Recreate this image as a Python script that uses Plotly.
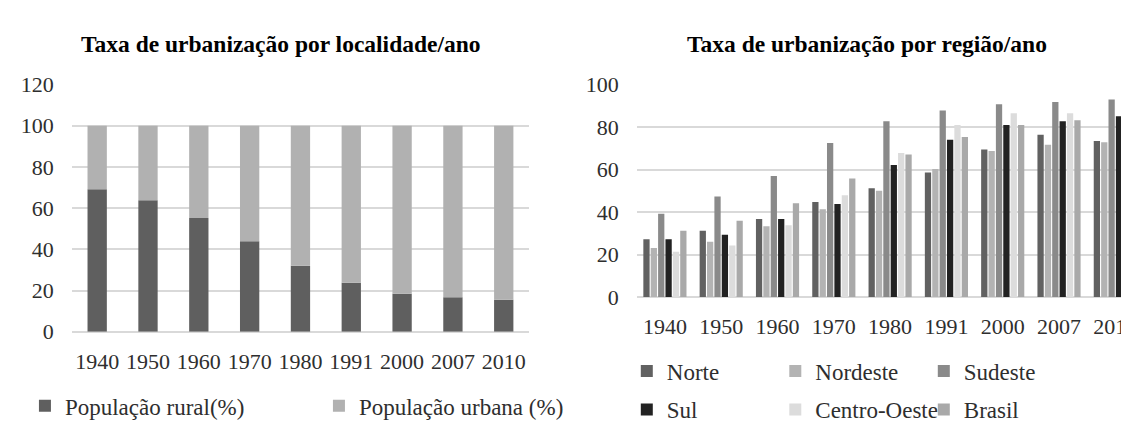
import plotly.graph_objects as go

# ---------------- data ----------------
years = ["1940", "1950", "1960", "1970", "1980", "1991", "2000", "2007", "2010"]

rural = [69.2, 63.9, 55.2, 43.9, 32.1, 23.8, 18.5, 16.7, 15.5]
urbana = [30.8, 36.1, 44.8, 56.1, 67.9, 76.2, 81.5, 83.3, 84.5]

norte = [27.2, 31.2, 36.7, 44.8, 51.2, 58.6, 69.5, 76.4, 73.5]
nordeste = [23.1, 26.1, 33.4, 41.4, 50.1, 60.3, 68.8, 71.7, 72.9]
sudeste = [39.2, 47.3, 57.0, 72.5, 82.7, 87.8, 90.8, 91.8, 93.0]
sul = [27.2, 29.4, 36.7, 43.8, 62.2, 74.1, 81.0, 82.7, 85.1]
centro_oeste = [21.4, 24.3, 33.8, 47.9, 67.8, 81.0, 86.5, 86.5, 89.0]
brasil = [31.2, 35.9, 44.2, 55.8, 67.1, 75.3, 81.0, 83.2, 84.3]

left_names = ["População rural(%)", "População urbana (%)"]
right_names = ["Norte", "Nordeste", "Sudeste", "Sul", "Centro-Oeste", "Brasil"]
right_colors = ["#616161", "#b3b3b3", "#8a8a8a", "#222222", "#dcdcdc", "#a9a9a9"]

FONT = "Liberation Serif"
TICK_COLOR = "#2e2e2e"
GRID = "#d9d9d9"

fig = go.Figure()

# ---------------- left: stacked ----------------
fig.add_trace(go.Bar(
    x=years, y=rural, name=left_names[0], marker=dict(color="#5f5f5f", line=dict(width=0)),
    xaxis="x", yaxis="y", offsetgroup="L", width=0.38, offset=-0.19, legend="legend",
))
fig.add_trace(go.Bar(
    x=years, y=urbana, base=rural, name=left_names[1], marker=dict(color="#b1b1b1", line=dict(width=0)),
    xaxis="x", yaxis="y", offsetgroup="L", width=0.38, offset=-0.19, legend="legend",
))

# ---------------- right: grouped ----------------
series = [norte, nordeste, sudeste, sul, centro_oeste, brasil]
for i, (nm, vals, col) in enumerate(zip(right_names, series, right_colors)):
    fig.add_trace(go.Bar(
        x=years, y=vals, name=nm, marker=dict(color=col, line=dict(width=0)),
        xaxis="x2", yaxis="y2", offsetgroup=nm,
        legend="legend2" if i < 3 else "legend3",
    ))

W, H = 1129, 423

def px_x(p):
    return p / W

def px_y(p):
    return (H - p) / H

tickfont = dict(family=FONT, size=22, color=TICK_COLOR)
legfont = dict(family=FONT, size=23, color=TICK_COLOR)

fig.update_layout(
    width=W, height=H,
    margin=dict(l=0, r=0, t=0, b=0),
    paper_bgcolor="white", plot_bgcolor="white",
    barmode="group", bargap=0.214, bargroupgap=0.15,
    font=dict(family=FONT, color=TICK_COLOR),
    xaxis=dict(domain=[px_x(64), px_x(523)], anchor="y", type="category",
               showgrid=False, showline=False, zeroline=False, ticks="",
               tickfont=tickfont, ticklabelstandoff=14, fixedrange=True),
    yaxis=dict(domain=[px_y(333), px_y(69)], anchor="x", range=[0, 120], dtick=20,
               showgrid=True, gridcolor=GRID, gridwidth=2, zeroline=True,
               zerolinecolor=GRID, zerolinewidth=2, showline=False, ticks="",
               tickfont=tickfont, ticklabelstandoff=17),
    xaxis2=dict(domain=[px_x(631), 1.0], anchor="y2", type="category",
                range=[-0.5, 8.314],
                showgrid=False, showline=False, zeroline=False, ticks="",
                tickfont=tickfont, ticklabelstandoff=14),
    yaxis2=dict(domain=[px_y(296), px_y(69)], anchor="x2", range=[0, 100], dtick=20,
                showgrid=True, gridcolor=GRID, gridwidth=2, zeroline=True,
                zerolinecolor=GRID, zerolinewidth=2, showline=False, ticks="",
                tickfont=tickfont, ticklabelstandoff=17),
    legend=dict(orientation="h", x=px_x(17), y=px_y(412), xanchor="left", yanchor="middle",
                font=legfont, entrywidth=249, itemwidth=30, bgcolor="rgba(0,0,0,0)"),
    legend2=dict(orientation="h", x=px_x(621), y=px_y(375), xanchor="left", yanchor="middle",
                 font=legfont, entrywidth=103.5, itemwidth=30, bgcolor="rgba(0,0,0,0)"),
    legend3=dict(orientation="h", x=px_x(621), y=px_y(416), xanchor="left", yanchor="middle",
                 font=legfont, entrywidth=103.5, itemwidth=30, bgcolor="rgba(0,0,0,0)"),
    annotations=[
        dict(text="<b>Taxa de urbanização por localidade/ano</b>", x=px_x(274), y=px_y(26),
             xref="paper", yref="paper", xanchor="center", yanchor="middle", showarrow=False,
             font=dict(family=FONT, size=23.5, color="#000000")),
        dict(text="<b>Taxa de urbanização por região/ano</b>", x=px_x(862), y=px_y(26),
             xref="paper", yref="paper", xanchor="center", yanchor="middle", showarrow=False,
             font=dict(family=FONT, size=23.5, color="#000000")),
    ],
)

fig.write_html("out.html")
